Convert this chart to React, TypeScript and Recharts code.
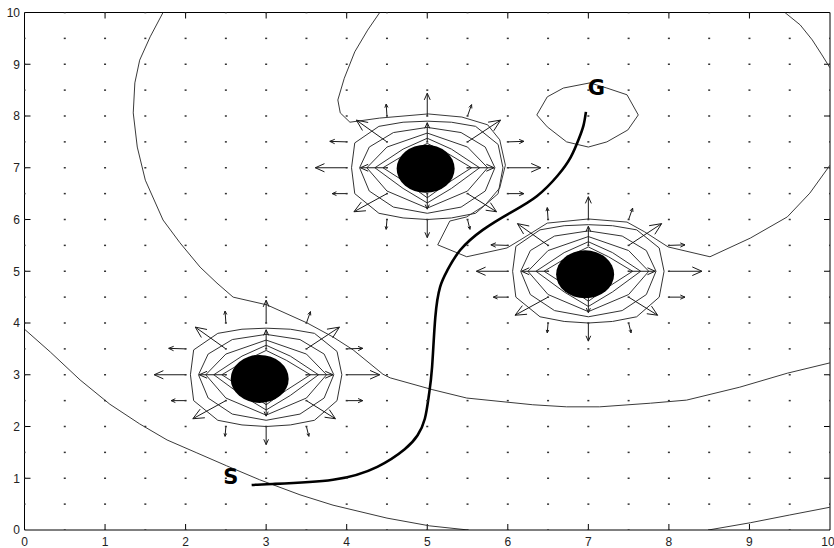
import { ComposedChart, XAxis, YAxis, Line, Scatter, ReferenceLine } from "recharts";

type Pt = [number, number];

// axis ticks
const AXIS_TICKS = [0, 1, 2, 3, 4, 5, 6, 7, 8, 9, 10];
const INNER_TICKS = [1, 2, 3, 4, 5, 6, 7, 8, 9];

// quiver sample positions (both directions)
const GRID_STEPS = [0, 0.5, 1, 1.5, 2, 2.5, 3, 3.5, 4, 4.5, 5, 5.5, 6, 6.5, 7, 7.5, 8, 8.5, 9, 9.5, 10];

// obstacle discs and the grid node each repulsive field sits on
const OBSTACLE_DISCS = [
  { x: 2.92, y: 2.92 },
  { x: 4.98, y: 6.98 },
  { x: 6.96, y: 4.94 },
];
const FIELD_CENTERS: Pt[] = [
  [3, 3],
  [5, 7],
  [7, 5],
];

// repulsive contour rings, offsets from the field center
const RINGS: Pt[][] = [
  [[-0.94, 0], [-0.9, 0.48], [-0.6, 0.8], [-0.3, 0.88], [0, 0.9], [0.3, 0.88], [0.6, 0.8], [0.88, 0.45], [0.94, 0], [0.88, -0.5], [0.6, -0.88], [0.3, -0.97], [0, -1.0], [-0.3, -0.97], [-0.6, -0.88], [-0.9, -0.5], [-0.94, 0]],
  [[-0.84, 0], [-0.72, 0.4], [-0.42, 0.68], [0, 0.78], [0.42, 0.68], [0.72, 0.4], [0.84, 0], [0.72, -0.45], [0.42, -0.76], [0, -0.88], [-0.42, -0.76], [-0.72, -0.45], [-0.84, 0]],
  [[-0.75, 0], [-0.5, 0.4], [0, 0.67], [0.5, 0.4], [0.75, 0], [0.5, -0.45], [0, -0.78], [-0.5, -0.45], [-0.75, 0]],
  [[-0.65, 0], [-0.3, 0.36], [0, 0.57], [0.3, 0.36], [0.65, 0], [0.3, -0.4], [0, -0.68], [-0.3, -0.4], [-0.65, 0]],
  [[-0.55, 0], [-0.25, 0.28], [0, 0.47], [0.25, 0.28], [0.55, 0], [0.25, -0.3], [0, -0.58], [-0.25, -0.3], [-0.55, 0]],
];

// repulsive arrows: [dx, dy] from field center, then [u, v]
const NEAR_ARROWS: [number, number, number, number][] = [
  [0, 0.5, 0, 0.37],
  [0, 1, 0, 0.44],
  [0, -0.5, 0, -0.3],
  [0, -1, 0, -0.35],
  [-0.5, 0, -0.33, 0],
  [-1, 0, -0.39, 0],
  [0.5, 0, 0.33, 0],
  [1, 0, 0.41, 0],
  [-0.5, 0.5, -0.38, 0.42],
  [0.5, 0.5, 0.41, 0.42],
  [-0.5, -0.5, -0.41, -0.35],
  [0.5, -0.5, 0.36, -0.35],
  [-0.5, 1, -0.01, 0.23],
  [0.5, 1, 0.05, 0.22],
  [-1, 0.5, -0.21, 0.01],
  [1, 0.5, 0.2, 0.01],
  [-1, -0.5, -0.18, 0],
  [1, -0.5, 0.2, 0],
  [-0.5, -1, -0.01, -0.19],
  [0.5, -1, 0.03, -0.19],
];

// attractive potential contours
const GOAL_LOOP: Pt[] = [[6.36, 8.02], [6.49, 8.37], [6.69, 8.54], [7.02, 8.64], [7.23, 8.54], [7.48, 8.41], [7.62, 8.02], [7.49, 7.73], [7.23, 7.5], [7.0, 7.4], [6.73, 7.5], [6.49, 7.79], [6.36, 8.02]];
const CONTOUR_B: Pt[] = [[4.41, 10], [4.26, 9.66], [4.1, 9.24], [3.97, 8.73], [3.89, 8.31], [3.92, 8.06], [4.04, 7.88], [4.41, 7.96], [5.01, 8.04], [5.43, 7.98], [5.75, 7.83], [5.9, 7.54], [5.97, 7.05], [5.9, 6.61], [5.72, 6.28], [5.49, 6.05], [5.28, 5.97], [5.13, 5.51], [5.49, 5.28], [5.99, 5.45], [6.15, 5.6], [6.49, 5.93], [7.0, 6.01], [7.48, 5.95], [7.7, 5.76], [7.99, 5.47], [8.51, 5.28], [9.01, 5.64], [9.47, 6.05], [9.75, 6.51], [10, 7.05]];
const CONTOUR_B_TOP: Pt[] = [[9.44, 10], [9.63, 9.76], [9.78, 9.47], [9.9, 9.18], [10, 8.93]];
const CONTOUR_C: Pt[] = [[1.72, 10], [1.56, 9.53], [1.43, 9.08], [1.37, 8.64], [1.35, 8.06], [1.4, 7.4], [1.5, 6.76], [1.72, 5.99], [1.93, 5.55], [2.18, 5.08], [2.39, 4.77], [2.59, 4.5], [3.01, 4.35], [3.51, 4.0], [3.83, 3.73], [4.08, 3.48], [4.45, 3.01], [4.54, 2.94], [5.07, 2.71], [5.49, 2.55], [6.31, 2.42], [6.73, 2.38], [7.14, 2.38], [7.77, 2.45], [8.22, 2.51], [8.88, 2.76], [9.47, 3.03], [10, 3.23]];
const CONTOUR_D: Pt[] = [[0, 3.88], [0.32, 3.44], [0.69, 2.9], [1.06, 2.43], [1.43, 2.05], [1.77, 1.74], [2.14, 1.49], [2.51, 1.24], [2.92, 0.97], [3.42, 0.68], [3.83, 0.48], [4.5, 0.23], [5.03, 0.08], [5.51, 0]];
const CONTOUR_E: Pt[] = [[8.49, 0], [9.01, 0.14], [9.5, 0.29], [10, 0.44]];

// planned path from S to G
const PATH: Pt[] = [[2.82, 0.87], [3.08, 0.89], [3.83, 0.97], [4.38, 1.22], [4.72, 1.56], [4.88, 1.83], [4.97, 2.15], [5.02, 2.6], [5.06, 3.15], [5.1, 4.11], [5.16, 4.7], [5.25, 5.02], [5.41, 5.41], [5.69, 5.8], [6.03, 6.13], [6.36, 6.45], [6.62, 6.85], [6.78, 7.2], [6.88, 7.55], [6.94, 7.82], [6.97, 8.08]];

const MARKERS = [
  { x: 2.56, y: 1.02, label: "S" },
  { x: 7.1, y: 8.54, label: "G" },
];

// layout
const W = 834;
const H = 548;
const MARGIN = { top: 12.5, right: 4, left: 0, bottom: 0 };
const Y_AXIS_W = 24.5;
const X_AXIS_H = 18;
const PX_X = (W - MARGIN.left - MARGIN.right - Y_AXIS_W) / 10;
const PX_Y = (H - MARGIN.top - MARGIN.bottom - X_AXIS_H) / 10;
const TICK_LEN = 6;
const DISC_RX = 29;
const DISC_RY = 24;

const toData = (pts: Pt[]) => pts.map(([x, y]) => ({ x, y }));

type Seg = [{ x: number; y: number }, { x: number; y: number }];

// shaft plus two barbs, head shaped in screen space
function arrow(x0: number, y0: number, u: number, v: number): Seg[] {
  const x1 = x0 + u;
  const y1 = y0 + v;
  const px = u * PX_X;
  const py = v * PX_Y;
  const len = Math.hypot(px, py);
  const h = len * 0.32;
  const ux = px / len;
  const uy = py / len;
  const barbs = [0.42, -0.42].map((t) => {
    const c = Math.cos(t);
    const s = Math.sin(t);
    const bx = -(ux * c - uy * s) * h;
    const by = -(ux * s + uy * c) * h;
    return [{ x: x1, y: y1 }, { x: x1 + bx / PX_X, y: y1 + by / PX_Y }] as Seg;
  });
  return [[{ x: x0, y: y0 }, { x: x1, y: y1 }], ...barbs];
}

const gridDots = GRID_STEPS.flatMap((x) => GRID_STEPS.map((y) => ({ x, y })));

const arrowSegs: Seg[] = FIELD_CENTERS.flatMap(([cx, cy]) =>
  NEAR_ARROWS.flatMap(([dx, dy, u, v]) => arrow(cx + dx, cy + dy, u, v))
);

const ringLines = FIELD_CENTERS.flatMap(([cx, cy]) =>
  RINGS.map((ring) => ring.map(([dx, dy]) => ({ x: cx + dx, y: cy + dy })))
);

const contourLines = [GOAL_LOOP, CONTOUR_B, CONTOUR_B_TOP, CONTOUR_C, CONTOUR_D, CONTOUR_E].map(toData);

const tickSegs: Seg[] = [
  ...INNER_TICKS.map((t) => [{ x: t, y: 0 }, { x: t, y: TICK_LEN / PX_Y }] as Seg),
  ...INNER_TICKS.map((t) => [{ x: t, y: 10 }, { x: t, y: 10 - TICK_LEN / PX_Y }] as Seg),
  ...INNER_TICKS.map((t) => [{ x: 0, y: t }, { x: TICK_LEN / PX_X, y: t }] as Seg),
  ...INNER_TICKS.map((t) => [{ x: 10, y: t }, { x: 10 - TICK_LEN / PX_X, y: t }] as Seg),
];

const tickStyle = { fontSize: 12, fill: "#222", fontFamily: "'Liberation Sans', Arial, sans-serif" };

export default function App() {
  return (
    <div style={{ position: "absolute", left: 0, top: 0, background: "#fff" }}>
      <ComposedChart width={W} height={H} margin={MARGIN}>
        <XAxis
          type="number"
          dataKey="x"
          domain={[0, 10]}
          ticks={AXIS_TICKS}
          allowDataOverflow
          height={X_AXIS_H}
          tickLine={false}
          tickSize={0}
          tickMargin={7}
          axisLine={{ stroke: "#000" }}
          tick={tickStyle}
        />
        <YAxis
          type="number"
          dataKey="y"
          domain={[0, 10]}
          ticks={AXIS_TICKS}
          allowDataOverflow
          width={Y_AXIS_W}
          tickLine={false}
          tickSize={0}
          tickMargin={4.5}
          axisLine={{ stroke: "#000" }}
          tick={tickStyle}
        />
        <ReferenceLine y={10} stroke="#000" />
        <ReferenceLine x={10} stroke="#000" />
        {tickSegs.map((s, i) => (
          <ReferenceLine key={`t${i}`} segment={s} stroke="#000" />
        ))}

        <Scatter
          data={gridDots}
          isAnimationActive={false}
          shape={(p: any) => <rect x={p.cx - 1} y={p.cy - 0.75} width={2} height={1.5} fill="#333" />}
        />

        {contourLines.map((d, i) => (
          <Line
            key={`c${i}`}
            data={d}
            dataKey="y"
            type="linear"
            stroke="#3a3a3a"
            strokeWidth={1}
            dot={false}
            activeDot={false}
            isAnimationActive={false}
          />
        ))}
        {ringLines.map((d, i) => (
          <Line
            key={`r${i}`}
            data={d}
            dataKey="y"
            type="linear"
            stroke="#333"
            strokeWidth={1}
            dot={false}
            activeDot={false}
            isAnimationActive={false}
          />
        ))}
        {arrowSegs.map((s, i) => (
          <ReferenceLine key={`a${i}`} segment={s} stroke="#1a1a1a" strokeWidth={1} />
        ))}

        <Scatter
          data={OBSTACLE_DISCS}
          isAnimationActive={false}
          shape={(p: any) => <ellipse cx={p.cx} cy={p.cy} rx={DISC_RX} ry={DISC_RY} fill="#000" />}
        />

        <Line
          data={toData(PATH)}
          dataKey="y"
          type="natural"
          stroke="#000"
          strokeWidth={2.6}
          dot={false}
          activeDot={false}
          isAnimationActive={false}
        />

        <Scatter
          data={MARKERS}
          isAnimationActive={false}
          shape={(p: any) => (
            <text
              x={p.cx}
              y={p.cy}
              textAnchor="middle"
              dominantBaseline="central"
              fontFamily="'DejaVu Sans', sans-serif"
              fontWeight="bold"
              fontSize={21}
              fill="#000"
            >
              {p.payload.label}
            </text>
          )}
        />
      </ComposedChart>
    </div>
  );
}
